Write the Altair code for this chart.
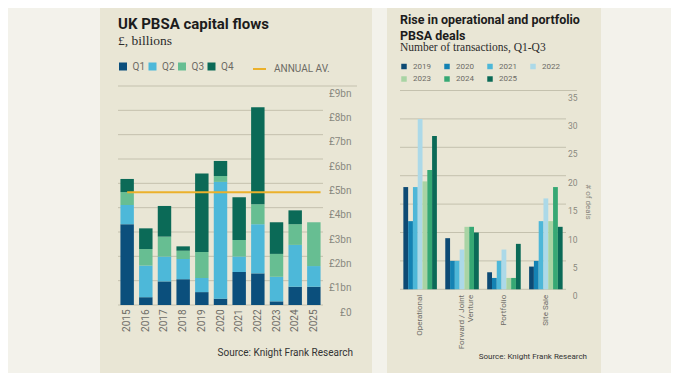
import altair as alt
import pandas as pd

# ---------------- data: left panel ----------------
YEARS = ["2015", "2016", "2017", "2018", "2019", "2020", "2021", "2022", "2023", "2024", "2025"]
QUARTERS = ["Q1", "Q2", "Q3", "Q4"]
Q1 = [3.32, 0.32, 0.97, 1.06, 0.53, 0.26, 1.36, 1.30, 0.15, 0.75, 0.75]
Q2 = [0.79, 1.30, 1.02, 0.83, 0.58, 4.80, 0.63, 2.02, 1.01, 1.72, 0.85]
Q3 = [0.53, 0.68, 0.82, 0.34, 1.07, 0.24, 0.68, 0.82, 0.94, 0.85, 1.80]
Q4 = [0.54, 0.85, 1.26, 0.18, 3.22, 0.62, 1.76, 3.99, 1.30, 0.57, 0.00]
ANNUAL_AV = 4.63
GBP_TICKS = [0, 1, 2, 3, 4, 5, 6, 7, 8, 9]

# ---------------- data: right panel ----------------
DEAL_TYPES = ["Operational", "Forward / Joint Venture", "Portfolio", "Site Sale"]
DEAL_YEARS = ["2019", "2020", "2021", "2022", "2023", "2024", "2025"]
D2019 = [18, 9, 3, 4]
D2020 = [12, 5, 2, 5]
D2021 = [18, 5, 5, 12]
D2022 = [30, 7, 7, 16]
D2023 = [19, 11, 2, 12]
D2024 = [21, 11, 2, 18]
D2025 = [27, 10, 8, 11]
DEAL_TICKS = [0, 5, 10, 15, 20, 25, 30, 35]

# ---------------- styles ----------------
OUTER = "#F3F2EB"
PANEL = "#E9E6D5"
GRID = "#C4C1AE"
Q_COLORS = ["#0B4F7C", "#4DB8D9", "#67BE92", "#0B6A57"]
AV_COLOR = "#EBB12B"
Y_COLORS = ["#0D4A74", "#1482B3", "#4DB7D8", "#ACD9E8", "#A9D4A4", "#36A874", "#0B6A57"]
SANS = "Roboto"
SERIF = "Liberation Serif"
TICK_GRAY = "#8A897F"
LEG_GRAY = "#6C6B65"

one = pd.DataFrame({"a": [0]})

# ================= left panel =================
W1, H1 = 205, 219
rows = []
for i, y in enumerate(YEARS):
    for qi, (q, arr) in enumerate(zip(QUARTERS, [Q1, Q2, Q3, Q4])):
        rows.append({"year": y, "quarter": q, "qi": qi, "value": arr[i]})
df_q = pd.DataFrame(rows)

yscale1 = alt.Scale(domain=[0, 9], nice=False)
yaxis1 = alt.Axis(orient="right", values=GBP_TICKS, grid=False, ticks=False, domain=False, title=None,
                  labelAlign="right", labelPadding=28, labelBaseline="middle", labelOffset=7,
                  labelFontSize=10, labelColor=TICK_GRAY, labelFont=SANS,
                  labelExpr="datum.value == 0 ? '£0' : '£' + datum.value + 'bn'", zindex=1)
xaxis1 = alt.Axis(labelAngle=-90, labelPadding=4, ticks=False, domain=False, title=None,
                  labelFontSize=10, labelColor="#6E6D67", labelFont=SANS, zindex=1)

bg1 = alt.Chart(one).mark_rect(color=PANEL).encode(
    x=alt.value(-18), x2=alt.value(254), y=alt.value(-78), y2=alt.value(287)
)
grid1 = alt.Chart(pd.DataFrame({"v": GBP_TICKS[:-1]})).mark_rule(color=GRID, strokeWidth=1).encode(
    y=alt.Y("v:Q", scale=yscale1, axis=yaxis1, title=None), x=alt.value(0), x2=alt.value(W1)
)
top1 = alt.Chart(pd.DataFrame({"v": GBP_TICKS[-1:]})).mark_rule(color=GRID, strokeWidth=1).encode(
    y=alt.Y("v:Q", scale=yscale1, axis=yaxis1, title=None), x=alt.value(0), x2=alt.value(239)
)
bars1 = alt.Chart(df_q).mark_bar().encode(
    x=alt.X("year:N", title=None, scale=alt.Scale(paddingInner=0.28, paddingOuter=0.13), axis=xaxis1),
    y=alt.Y("value:Q", stack="zero", scale=yscale1, title=None, axis=yaxis1),
    color=alt.Color("quarter:N", scale=alt.Scale(domain=QUARTERS, range=Q_COLORS),
                    legend=alt.Legend(orient="none", legendX=0, legendY=-24.5, direction="horizontal",
                                      title=None, symbolType="square", symbolSize=64, symbolStrokeWidth=0,
                                      labelFontSize=10, labelColor=LEG_GRAY, labelFont=SANS,
                                      labelOffset=4.5, columnPadding=2.5, padding=0)),
    order=alt.Order("qi:Q", sort="ascending"),
)
df_av = pd.DataFrame({"start": [YEARS[0]], "end": [YEARS[-1]], "v": [ANNUAL_AV], "series": ["ANNUAL AV."]})
av = alt.Chart(df_av).mark_rule(strokeWidth=2).encode(
    x=alt.X("start:N", bandPosition=0.5, title=None, axis=xaxis1),
    x2=alt.X2("end:N", bandPosition=1),
    y=alt.Y("v:Q", scale=yscale1, title=None, axis=yaxis1),
    stroke=alt.Stroke("series:N", scale=alt.Scale(domain=["ANNUAL AV."], range=[AV_COLOR]),
                      legend=alt.Legend(orient="none", legendX=134, legendY=-24.5, title=None,
                                        symbolType="stroke", symbolSize=169, symbolStrokeWidth=2,
                                        labelFontSize=10, labelColor=LEG_GRAY, labelFont=SANS,
                                        labelOffset=7, padding=0)),
)
t1 = alt.Chart(one).mark_text(text="UK PBSA capital flows", font=SANS, fontSize=15, fontWeight="bold",
                              color="#1C1C1C", align="left", baseline="alphabetic").encode(
    x=alt.value(0), y=alt.value(-57))
s1 = alt.Chart(one).mark_text(text="£, billions", font=SERIF, fontSize=13.5, color="#2B2B2B",
                              align="left", baseline="alphabetic").encode(
    x=alt.value(0), y=alt.value(-41.5))
src1 = alt.Chart(one).mark_text(text="Source: Knight Frank Research", font=SANS, fontSize=10,
                                color="#333333", align="right", baseline="middle").encode(
    x=alt.value(235), y=alt.value(267))

left = alt.layer(bg1, grid1, top1, bars1, av, t1, s1, src1).properties(width=W1, height=H1)

# ================= right panel =================
W2, H2 = 166, 203.3
rows2 = []
for y, arr in zip(DEAL_YEARS, [D2019, D2020, D2021, D2022, D2023, D2024, D2025]):
    for t, n in zip(DEAL_TYPES, arr):
        rows2.append({"type": t, "year": y, "n": n})
df_d = pd.DataFrame(rows2)

yscale2 = alt.Scale(domain=[0, 35], nice=False, range=[H2, 4.5])
yaxis2 = alt.Axis(orient="right", values=DEAL_TICKS, grid=False, ticks=False, domain=False,
                  labelAlign="right", labelPadding=11, labelBaseline="middle", labelOffset=6.5,
                  labelFontSize=8.5, labelColor=TICK_GRAY, labelFont=SANS,
                  title="# of deals", titleX=21, titleY=115.5, titleAngle=90,
                  titleAlign="center", titleBaseline="middle",
                  titleFontSize=8, titleFontWeight="normal", titleColor=TICK_GRAY, titleFont=SANS,
                  zindex=1)

bg2 = alt.Chart(one).mark_rect(color=PANEL).encode(
    x=alt.value(-13), x2=alt.value(201), y=alt.value(-78), y2=alt.value(287)
)
grid2 = alt.Chart(pd.DataFrame({"v": DEAL_TICKS[:-1]})).mark_rule(color=GRID, strokeWidth=1).encode(
    y=alt.Y("v:Q", scale=yscale2, axis=yaxis2, title="# of deals"), x=alt.value(0), x2=alt.value(W2)
)
top2 = alt.Chart(pd.DataFrame({"v": DEAL_TICKS[-1:]})).mark_rule(color=GRID, strokeWidth=1).encode(
    y=alt.Y("v:Q", scale=yscale2, axis=yaxis2, title="# of deals"), x=alt.value(0), x2=alt.value(177)
)
bars2 = alt.Chart(df_d).mark_bar().encode(
    x=alt.X("type:N", sort=DEAL_TYPES, title=None,
            scale=alt.Scale(paddingInner=0.2, paddingOuter=0.08),
            axis=alt.Axis(labelAngle=-90, labelPadding=5, ticks=False, domain=False, title=None,
                          labelFontSize=8, labelColor="#6E6D67", labelFont=SANS, labelLineHeight=9,
                          labelExpr="datum.label == 'Forward / Joint Venture' ? ['Forward / Joint', 'Venture'] : datum.label",
                          zindex=1)),
    xOffset=alt.XOffset("year:N", sort=DEAL_YEARS),
    y=alt.Y("n:Q", scale=yscale2, axis=yaxis2, title="# of deals"),
    color=alt.Color("year:N", scale=alt.Scale(domain=DEAL_YEARS, range=Y_COLORS),
                    legend=alt.Legend(orient="none", legendX=0, legendY=-23.5, columns=4, direction="horizontal",
                                      title=None, symbolType="square", symbolSize=30, symbolStrokeWidth=0,
                                      labelFontSize=8, labelColor=LEG_GRAY, labelFont=SANS,
                                      labelOffset=5, columnPadding=12, rowPadding=4.5, padding=0)),
)
t2 = alt.Chart(one).mark_text(text="Rise in operational and portfolio\nPBSA deals", lineBreak="\n",
                              lineHeight=15.5, font=SANS, fontSize=12.5, fontWeight="bold",
                              color="#1C1C1C", align="left", baseline="alphabetic").encode(
    x=alt.value(0), y=alt.value(-62))
s2 = alt.Chart(one).mark_text(text="Number of transactions, Q1-Q3", font=SERIF, fontSize=11.5,
                              color="#2B2B2B", align="left", baseline="alphabetic").encode(
    x=alt.value(0), y=alt.value(-35))
src2 = alt.Chart(one).mark_text(text="Source: Knight Frank Research", font=SANS, fontSize=8,
                                color="#333333", align="right", baseline="middle").encode(
    x=alt.value(187), y=alt.value(271))

right = alt.layer(bg2, grid2, top2, bars2, t2, s2, src2).properties(width=W2, height=H2)

chart = alt.hconcat(left, right, spacing=15).resolve_scale(
    x="independent", y="independent", color="independent", stroke="independent"
).resolve_legend(color="independent").properties(
    padding={"left": 92, "top": 0, "right": 70, "bottom": 0},
    background=OUTER,
).configure_view(stroke=None)

chart.save("out.html", embed_options={"renderer": "svg", "actions": False})
